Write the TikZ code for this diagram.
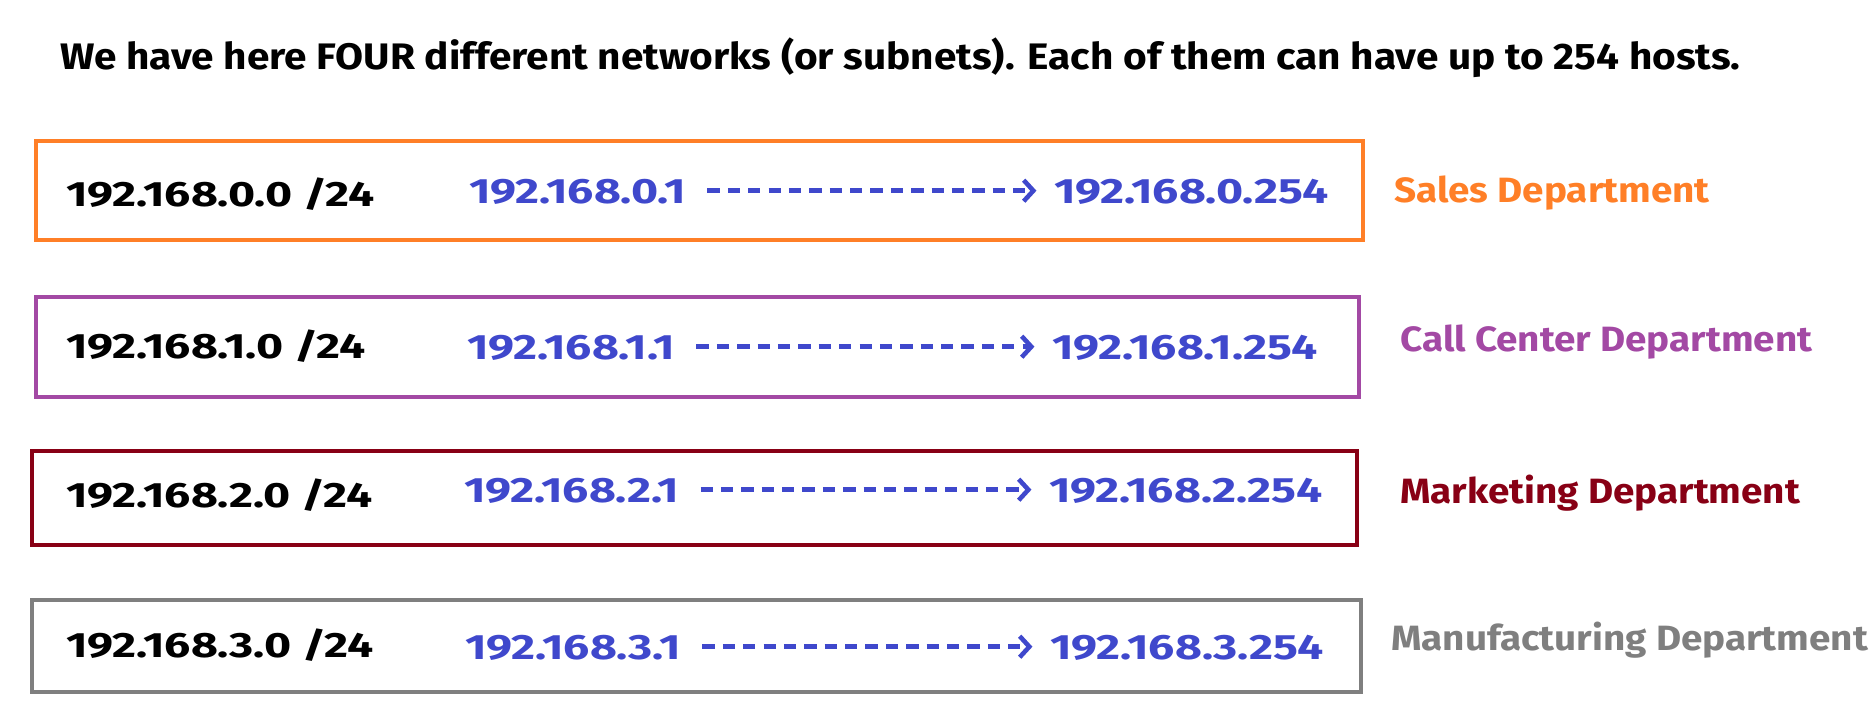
\documentclass[tikz,border=0pt]{standalone}
\usepackage{fontspec}
\setmainfont{Fira Sans}[FakeStretch=1.1]
\newfontfamily\addrfont{Fira Sans}[FakeStretch=1.32]
\usepackage{tikz}
\usetikzlibrary{arrows.meta}

\definecolor{salesorange}{RGB}{255,127,39}
\definecolor{callpurple}{RGB}{163,73,164}
\definecolor{marketred}{RGB}{136,0,21}
\definecolor{manugray}{RGB}{127,127,127}
\definecolor{hostblue}{RGB}{63,72,204}

\begin{document}
\begin{tikzpicture}[x=0.02cm,y=0.02cm]
            \tikzstyle{every node}+=[inner sep=0pt, font=\bfseries\fontsize{20}{24}\selectfont]
            \tikzstyle{netbox}=[line width=2.8pt]
            \tikzstyle{netaddr}=[anchor=base west, black, font=\addrfont\bfseries\fontsize{20}{24}\selectfont]
            \tikzstyle{hostaddr}=[anchor=base west, text=hostblue, font=\addrfont\bfseries\fontsize{20}{24}\selectfont]
            \tikzstyle{hostrange}=[draw=hostblue, line width=2.6pt, dash pattern=on 7pt off 4.6pt,
                -{Straight Barb[length=5.5pt,width=12pt]}]
            \tikzstyle{deptname}=[anchor=base west]
            \useasboundingbox (0,0) rectangle (1871,-720);
            \node [anchor=base west, font=\bfseries\fontsize{21}{25}\selectfont] (title) at (60,-69)
                {We have here FOUR different networks (or subnets). Each of them can have up to 254 hosts.};
            % sales
            \draw [netbox, salesorange] (36,-141) rectangle (1363,-240);
            \node [netaddr] (net0) at (66,-206) {192.168.0.0 /24};
            \node [hostaddr] (first0) at (469,-203) {192.168.0.1};
            \node [hostaddr] (last0) at (1054,-203) {192.168.0.254};
            \draw [hostrange] ([xshift=12pt,yshift=7pt]first0.base east) -- ([xshift=-10pt,yshift=7pt]last0.base west);
            \node [deptname, text=salesorange] (dept0) at (1394,-202) {Sales Department};
            % call center
            \draw [netbox, callpurple] (36,-297) rectangle (1359,-397);
            \node [netaddr] (net1) at (66,-358) {192.168.1.0 /24};
            \node [hostaddr] (first1) at (467,-359) {192.168.1.1};
            \node [hostaddr] (last1) at (1052,-359) {192.168.1.254};
            \draw [hostrange] ([xshift=12pt,yshift=7pt]first1.base east) -- ([xshift=-10pt,yshift=7pt]last1.base west);
            \node [deptname, text=callpurple] (dept1) at (1400,-351) {Call Center Department};
            % marketing
            \draw [netbox, marketred] (32,-451) rectangle (1357,-545);
            \node [netaddr] (net2) at (66,-507) {192.168.2.0 /24};
            \node [hostaddr] (first2) at (464,-502) {192.168.2.1};
            \node [hostaddr] (last2) at (1049,-502) {192.168.2.254};
            \draw [hostrange] ([xshift=12pt,yshift=7pt]first2.base east) -- ([xshift=-10pt,yshift=7pt]last2.base west);
            \node [deptname, text=marketred] (dept2) at (1400,-503) {Marketing Department};
            % manufacturing
            \draw [netbox, manugray] (32,-600) rectangle (1361,-692);
            \node [netaddr] (net3) at (66,-657) {192.168.3.0 /24};
            \node [hostaddr] (first3) at (465,-659) {192.168.3.1};
            \node [hostaddr] (last3) at (1050,-659) {192.168.3.254};
            \draw [hostrange] ([xshift=12pt,yshift=7pt]first3.base east) -- ([xshift=-10pt,yshift=7pt]last3.base west);
            \node [deptname, text=manugray] (dept3) at (1391,-650) {Manufacturing Department};
        \end{tikzpicture}
\end{document}
